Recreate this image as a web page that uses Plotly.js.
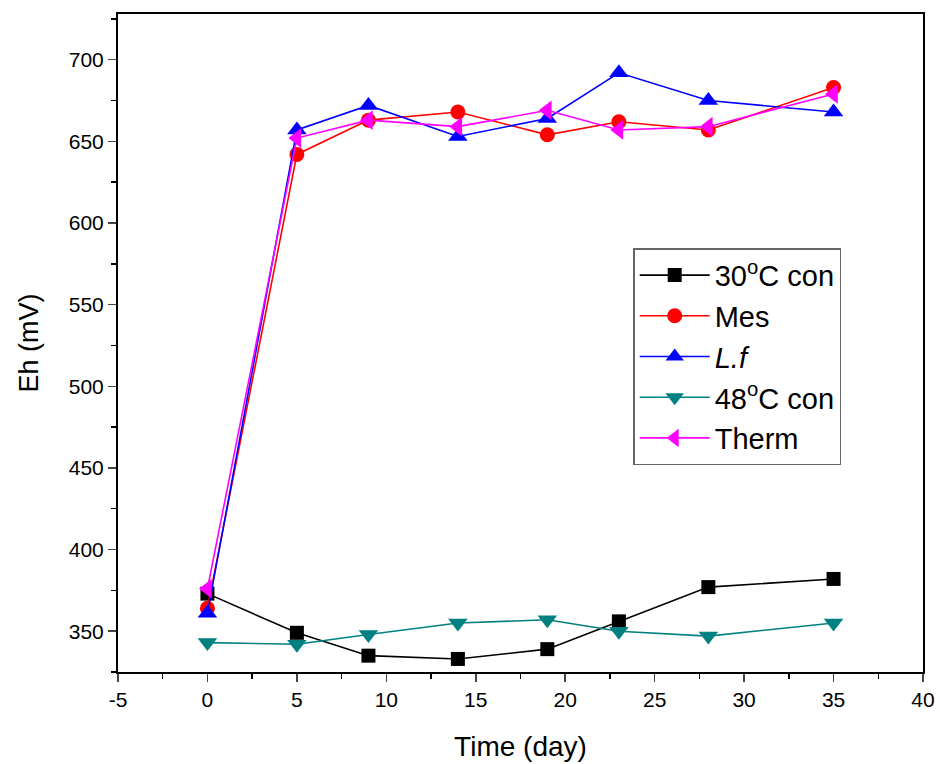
<!DOCTYPE html>
<html>
<head>
<meta charset="utf-8">
<script src="https://cdn.plot.ly/plotly-3.0.1.min.js"></script>
<style>html,body{margin:0;padding:0;background:#fff;}</style>
</head>
<body>
<div id="chart" style="width:940px;height:764px;"></div>
<script>
const days = [0, 5, 9, 14, 19, 23, 28, 35];
const con30 = [373, 349, 335, 333, 339, 356, 377, 382];
const mes = [364, 642, 663, 668, 654, 662, 657, 683];
const lf = [361, 657, 672, 653, 664, 692, 675, 668];
const con48 = [343, 342, 348, 355, 357, 350, 347, 355];
const therm = [376, 652, 663, 659, 669, 657, 659, 679];
const seriesNames = ['30<sup>o</sup>C con', 'Mes', '<i>L.f</i>', '48<sup>o</sup>C con', 'Therm'];
const xTicks = [-5, 0, 5, 10, 15, 20, 25, 30, 35, 40];
const yTicks = [350, 400, 450, 500, 550, 600, 650, 700];

function tr(y, name, color, symbol, size) {
  return {x: days, y: y, name: name, type: 'scatter', mode: 'lines+markers',
    line: {color: color, width: 1.6},
    marker: {color: color, symbol: symbol, size: size}};
}
const data = [
  tr(con30, seriesNames[0], '#000000', 'square', 14),
  tr(mes, seriesNames[1], '#ff0000', 'circle', 15),
  tr(lf, seriesNames[2], '#0000ff', 'triangle-up', 17),
  tr(con48, seriesNames[3], '#008080', 'triangle-down', 17),
  tr(therm, seriesNames[4], '#ff00ff', 'triangle-left', 17)
];
const layout = {
  width: 940, height: 764,
  margin: {l: 118, r: 17, t: 14, b: 92},
  paper_bgcolor: '#fff', plot_bgcolor: '#fff',
  font: {family: 'Liberation Sans, Arial, sans-serif', color: '#000'},
  showlegend: true,
  legend: {x: 0.64, y: 0.644, xanchor: 'left', yanchor: 'top',
    bordercolor: '#666', borderwidth: 1.5, bgcolor: '#fff', itemwidth: 70,
    font: {size: 29, color: '#000'}, tracegroupgap: 0},
  xaxis: {range: [-5, 40], tickvals: xTicks, ticktext: xTicks.map(String),
    ticks: 'outside', ticklen: 8, tickwidth: 1.5,
    showline: true, linewidth: 2, linecolor: '#000', mirror: true, showgrid: false, zeroline: false,
    tickfont: {size: 21},
    minor: {dtick: 2.5, tick0: 0, ticks: 'outside', ticklen: 5, tickwidth: 1.5, tickcolor: '#000'},
    title: {text: 'Time (day)', font: {size: 28}, standoff: 26}},
  yaxis: {range: [325, 728], tickvals: yTicks, ticks: 'outside', ticklen: 8, tickwidth: 1.5,
    showline: true, linewidth: 2, linecolor: '#000', mirror: true, showgrid: false, zeroline: false,
    tickfont: {size: 21},
    minor: {dtick: 25, tick0: 0, ticks: 'outside', ticklen: 5, tickwidth: 1.5, tickcolor: '#000'},
    title: {text: 'Eh (mV)', font: {size: 27}, standoff: 22}}
};
Plotly.newPlot('chart', data, layout, {displayModeBar: false, staticPlot: true});
</script>
</body>
</html>
